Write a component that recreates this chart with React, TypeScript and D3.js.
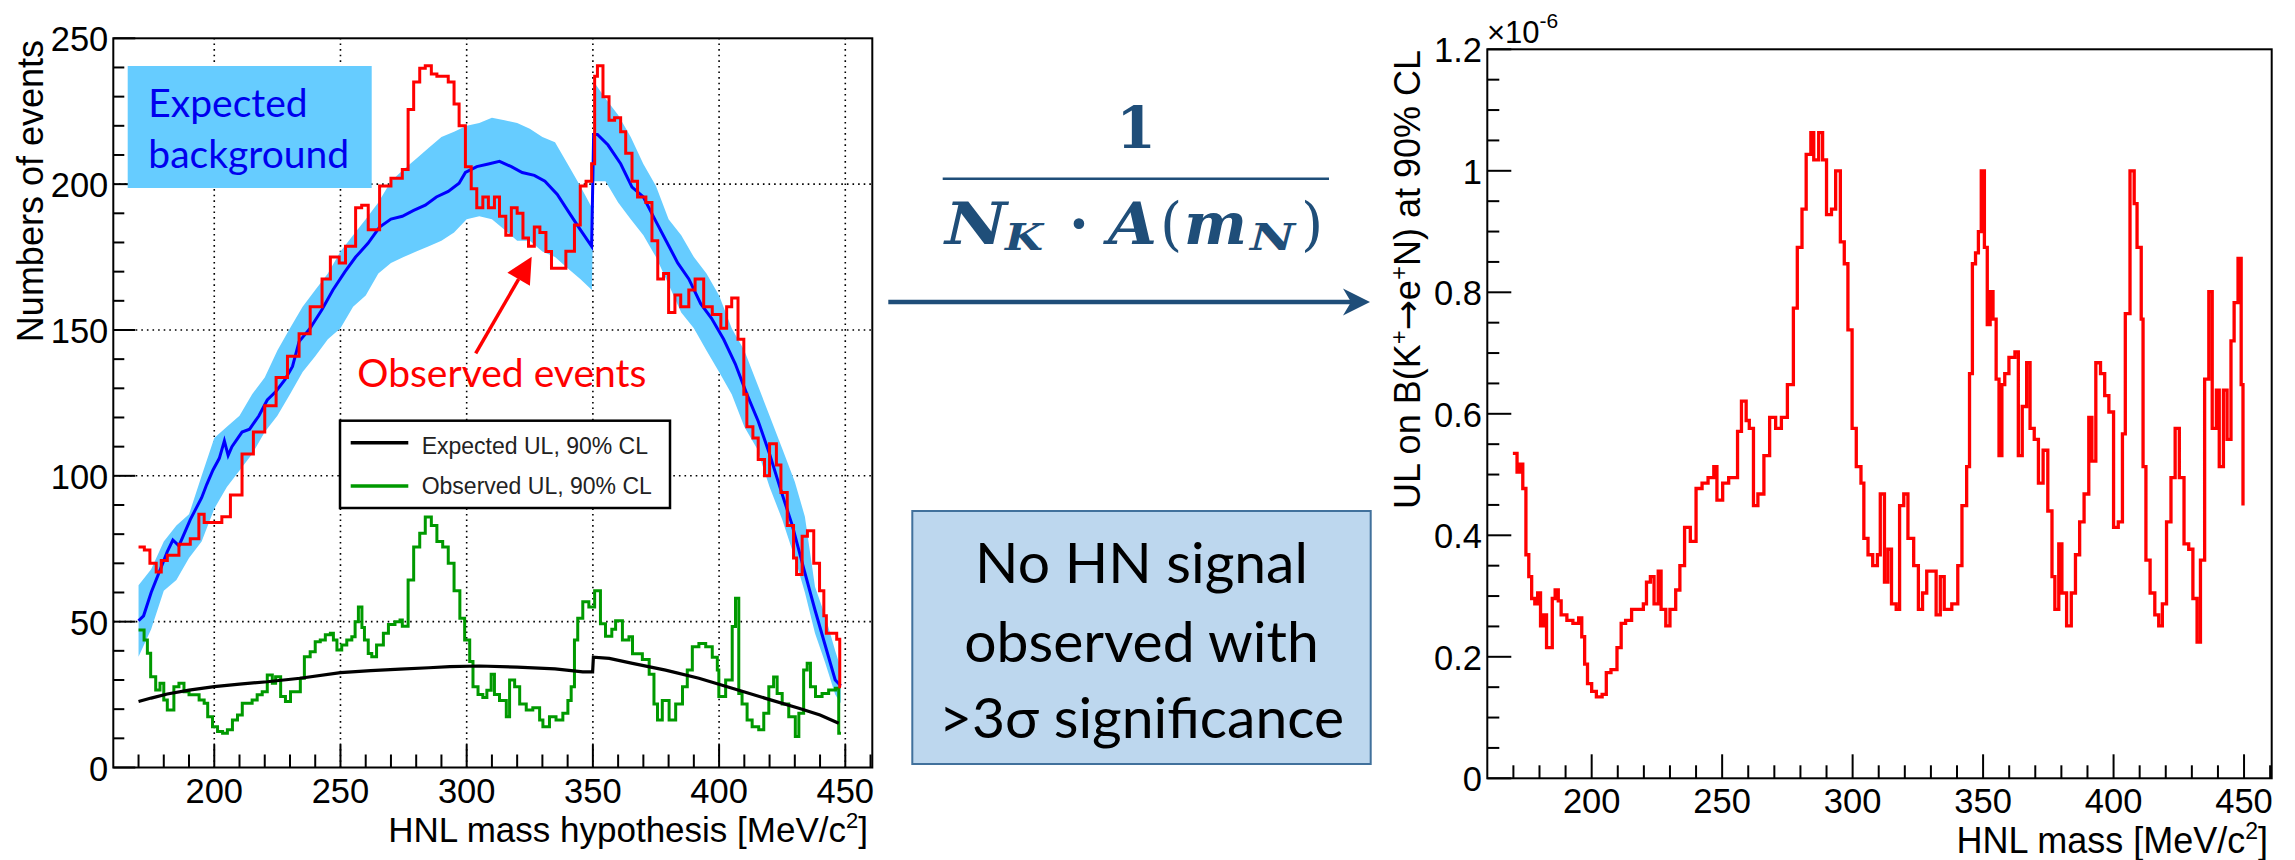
import React from "react";
import * as d3 from "d3";

// ---------------- data ----------------
// Expected background (blue), MeV/c^2 vs events
const bkgMass = [170, 172, 175, 181.4, 183.6, 186, 190.5, 195, 197, 199.5, 202, 204, 205.5, 207, 211, 214, 217.7, 221, 224.5, 228, 231, 233.6, 238, 242.7, 247, 251.8, 256, 260.9, 265.5, 270, 274.5, 279, 283.6, 288, 292.7, 297, 299.5, 304, 308.6, 313, 317.7, 322, 326.8, 331, 335.9, 340, 345, 349.5, 350.3, 351.8, 356, 361, 365.5, 370, 374.5, 379, 383.6, 388, 392.7, 397, 401.8, 406.4, 411, 415.5, 420, 424.5, 429, 433.6, 438, 442, 446, 448.2];
const bkgMean = [50.3, 52, 60, 74, 78, 76, 85, 92.5, 97, 102, 106, 112, 107, 110, 115, 116, 120.6, 126, 129, 133, 137.5, 146, 150.6, 157, 163.7, 170, 175, 179.7, 185.3, 188, 189, 191, 192.8, 195.6, 197.5, 200.3, 204, 206, 206.9, 207.8, 206, 204, 203, 201, 196.5, 191, 184.4, 178.7, 217, 217, 213.4, 207, 199, 195.6, 188, 180.6, 173, 167.5, 159, 154, 146.8, 138.4, 128, 118.7, 107.5, 95, 83, 68, 54, 42, 30, 28];

// Uncertainty band of the expected background
const bandMass = [170, 175, 180, 185, 190, 195, 200, 205, 210, 215, 220, 225, 230, 235, 240, 245, 250, 255, 260, 265, 270, 275, 280, 285, 290, 295, 300, 305, 310, 315, 320, 325, 330, 335, 340, 345, 349.6, 350.4, 355, 360, 365, 370, 375, 380, 385, 390, 395, 400, 405, 410, 415, 420, 425, 430, 434, 438, 442, 446, 448.2];
const bandLow = [38, 47.4, 60.6, 64.3, 71.8, 77.5, 88.7, 96.2, 101.8, 107.5, 115, 120.6, 128, 135.6, 141, 146.8, 150.6, 158, 161.8, 169.4, 173, 175, 176.9, 178.7, 180.6, 183.4, 188, 189, 188, 184.4, 180.6, 180.6, 176.9, 175, 171.2, 167.5, 163.7, 201, 201, 193.7, 188, 182.5, 175, 165.6, 156, 150.6, 143, 135.6, 128, 116.8, 109.4, 96.2, 85, 71.8, 60, 46, 36, 25, 22];
const bandHigh = [62.5, 68, 77.5, 83, 86.8, 100, 113, 116.8, 120.6, 128, 133.7, 143, 150.6, 158, 163.7, 169.4, 176.9, 182.5, 188, 193.7, 201, 205, 208.7, 212.5, 216.2, 218, 220, 221, 222.8, 221.9, 221, 219, 216.2, 214.4, 206.9, 199.4, 191.9, 235, 229.4, 223.7, 216.2, 206.9, 199.4, 188, 182.5, 175, 169.4, 161.8, 150.6, 143, 131.8, 120.6, 109.4, 98, 86, 62, 52, 40, 34];

// Observed events (red)
const obsMass = [170, 172.3, 174.5, 177, 179, 181.4, 186, 190.5, 193.9, 196, 198.4, 203, 206.4, 211, 215.5, 220, 224.5, 229, 233.6, 238, 242.7, 246, 249.5, 252, 256, 258.4, 261, 265.5, 270, 274.5, 276.8, 279, 281.4, 283.6, 286, 288.2, 292.7, 295, 297, 299.5, 301.8, 304, 306.4, 308.6, 311, 313, 315.5, 317.7, 320, 322.3, 324.5, 326.8, 329, 331.4, 333.6, 337, 339.3, 342.7, 345, 347.3, 349.5, 350.7, 351.8, 354, 356.4, 358.6, 361, 363, 365.5, 367.7, 371, 373.4, 375.7, 378, 380, 382.5, 384.8, 388, 390.5, 393.9, 397.3, 400.7, 403, 405, 407.5, 409.8, 411, 413.4, 415.5, 418, 420, 422.7, 424.5, 427, 429.5, 430.7, 432.9, 435, 437.5, 439.8, 441.5, 442.5, 446.6, 447.8, 448.3];
const obsEvents = [75.6, 74.6, 70, 67, 71, 72.8, 76.5, 78.4, 86.8, 84, 84, 86, 93.4, 107.5, 115, 124, 133.7, 141, 148.7, 158, 167.5, 175, 173, 178.7, 191.9, 192.8, 184.4, 199.4, 202, 205, 225.6, 235, 239.7, 240.6, 237.8, 237, 235, 227.5, 220, 206, 198.4, 191.9, 195.6, 191.9, 195.6, 189, 182.5, 191.9, 190, 181.5, 178.7, 185.3, 183.4, 176.9, 171.2, 171.2, 177, 186, 199.4, 201, 207, 237, 240.6, 230, 221.9, 222.8, 218, 210.6, 201, 195.6, 193.7, 180.6, 167.5, 169.4, 156, 162, 158, 163.7, 167.5, 158, 155.3, 150.6, 158, 161, 146.8, 128, 116.8, 113, 105.6, 100, 111, 103.7, 94.3, 83, 71.8, 66.2, 79.3, 81.2, 70, 60.6, 52, 46, 44, 27.7, 27.7];

// Expected UL, 90% CL (black)
const expMass = [170, 175, 181.4, 190, 200, 210, 221, 234, 250, 262, 273.6, 285, 293.3, 305, 320, 335, 346, 349.9, 350.2, 356.5, 365.7, 378.8, 392, 405.2, 418.4, 431.6, 440, 447.4];
const expUL = [22.6, 23.8, 25.2, 26.5, 27.7, 28.6, 29.4, 30.6, 32.5, 33.2, 33.7, 34.2, 34.6, 34.8, 34.4, 33.8, 32.8, 32.8, 37.8, 37.4, 35.7, 33.4, 30.6, 27.2, 23.7, 20.3, 18, 15.2];

// Observed UL, 90% CL (green)
const obsULMass = [170, 172.2, 173.5, 174.8, 176.8, 178.5, 180, 181.4, 183.3, 184, 186, 188, 190, 192, 194, 196, 197.4, 199.3, 201.3, 203.3, 205.2, 207.2, 209.2, 211.1, 213, 215, 217, 219, 221, 223, 224.3, 226.3, 228.2, 230.2, 232.2, 234.1, 235.7, 238, 240, 242, 244, 246, 247.2, 248.6, 250.5, 252.5, 254.5, 255.8, 257.1, 258.5, 259.5, 261, 262.4, 264.3, 267, 269, 271.6, 273.6, 274.5, 276.8, 279, 281.4, 283.6, 286, 288.2, 290.5, 292.7, 295, 297.3, 299.2, 301.2, 302.5, 304.5, 306.4, 308, 309.7, 311, 313, 315.7, 317, 319, 321, 323.6, 326.2, 328.9, 330.2, 332.8, 335.4, 338.1, 340.1, 341.4, 342.7, 344, 346, 348.4, 350.7, 353, 355, 357.5, 359, 361.7, 364.3, 365.7, 369.6, 372.3, 374.2, 375.6, 377.5, 380.2, 382.8, 385.5, 387.4, 389.4, 392, 394.7, 397.3, 399.3, 399.9, 402.6, 405.2, 406.5, 407.8, 409.1, 411.1, 413.1, 415.7, 417.7, 419.7, 421.6, 423, 425, 427.6, 430.2, 431.6, 433.5, 434.9, 436.2, 438.2, 440.8, 443.4, 446.1, 447.4, 448.3];
const obsUL = [47.1, 43.7, 39.2, 31.1, 26.6, 28.9, 23.1, 19.7, 19.7, 27.7, 28.9, 26, 24.9, 24.9, 23.1, 22, 17.4, 14, 12.3, 11.7, 12.9, 16.3, 18, 22, 22, 23.1, 24.9, 26, 31.7, 28.9, 31.1, 24.3, 22.6, 26, 26, 30.6, 38, 39.7, 43.1, 43.7, 45.5, 46, 43.7, 40.3, 42, 43.7, 44.8, 50, 55, 48, 43.7, 39.1, 38, 42, 46, 49, 50, 50.6, 48.4, 64.3, 75.6, 80.3, 85.9, 83, 77.5, 75.6, 70, 60.6, 51.2, 43.7, 36.3, 27.7, 25, 24, 26.5, 32, 25, 23, 17.4, 30, 27.7, 21.8, 19.7, 20.5, 16.3, 14, 17.4, 16.3, 18.6, 23, 27.7, 43.7, 51.2, 56.8, 55, 60.6, 49.3, 45, 47.4, 50.3, 43.7, 44.8, 39, 37, 32, 21.8, 16.3, 23, 16.3, 21.8, 27.7, 33.4, 41.4, 42.5, 41.4, 37.8, 33.4, 24.3, 30, 48.3, 58, 25.4, 21.8, 16.3, 14, 12.9, 18.6, 27.7, 31, 25.4, 21.8, 17.4, 10.6, 18.6, 33.4, 35.7, 27.7, 24.3, 25.4, 26.6, 27.2, 11.7, 11.7];

// UL on B(K+ -> e+ N) at 90% CL, in units of 1e-6 (right panel)
const brMass = [169.8, 171.4, 172.5, 173.6, 174.8, 175.9, 177, 178.2, 179.3, 180.4, 181.5, 182.7, 183.8, 184.9, 186, 187.2, 188.3, 190.5, 192.8, 195, 196.2, 197.3, 198.4, 200, 201.8, 204, 205.6, 207.4, 209.7, 211.3, 213, 215.3, 217.6, 219.8, 221, 222.5, 223.9, 225.5, 226.6, 228.4, 230, 232.2, 233.8, 235.6, 237.8, 240, 242.3, 244.6, 246.8, 248, 250.2, 252.5, 254.7, 255.9, 257.4, 259.2, 260.4, 262, 263.7, 266, 268.2, 270.5, 272.7, 275, 277.3, 278.8, 280.6, 282.2, 284, 285.1, 287, 288.5, 290, 291.9, 293.5, 295.3, 296.8, 298.2, 299.8, 301.4, 303.2, 304.3, 305.9, 307.7, 309.5, 310.6, 312.2, 313.5, 314.9, 316.7, 318, 319.6, 321.2, 323.4, 325.2, 326.8, 328.4, 330.6, 332, 333.6, 335.1, 338, 340.3, 341.9, 343.7, 344.8, 345.9, 347.1, 348.2, 349.3, 350.5, 351.6, 352.7, 353.8, 355, 356.1, 357.2, 358.3, 359.9, 362.2, 363.5, 365, 366.7, 368, 369.6, 371.2, 373, 374.8, 376.4, 377.5, 379, 380.2, 382, 383.8, 385.4, 387, 388.7, 390.5, 391.7, 393.2, 395, 396.6, 398.2, 400, 401.8, 403.4, 404.5, 406.3, 407.9, 409, 410.6, 411.3, 412.4, 414, 415.8, 417.3, 418.7, 420.3, 422, 423.6, 425.2, 427, 428.8, 430.4, 432, 433.3, 434.9, 436.5, 437.8, 439.4, 440.5, 442.1, 443.5, 445, 446.2, 447.7, 448.9, 449.6];
const brUL = [0.535, 0.504, 0.517, 0.477, 0.368, 0.332, 0.296, 0.287, 0.305, 0.251, 0.269, 0.215, 0.215, 0.296, 0.31, 0.292, 0.269, 0.26, 0.255, 0.264, 0.233, 0.188, 0.156, 0.143, 0.134, 0.138, 0.174, 0.179, 0.215, 0.255, 0.26, 0.278, 0.278, 0.287, 0.323, 0.332, 0.287, 0.341, 0.278, 0.251, 0.278, 0.31, 0.35, 0.413, 0.39, 0.477, 0.486, 0.495, 0.513, 0.458, 0.486, 0.495, 0.495, 0.571, 0.621, 0.589, 0.576, 0.449, 0.468, 0.531, 0.594, 0.576, 0.594, 0.648, 0.774, 0.874, 0.937, 1.027, 1.063, 1.018, 1.063, 1.018, 0.928, 0.937, 1.0, 0.883, 0.847, 0.738, 0.576, 0.513, 0.486, 0.395, 0.368, 0.35, 0.368, 0.468, 0.323, 0.377, 0.287, 0.278, 0.449, 0.468, 0.395, 0.35, 0.278, 0.305, 0.341, 0.341, 0.269, 0.332, 0.278, 0.287, 0.35, 0.449, 0.513, 0.666, 0.847, 0.865, 0.9, 1.0, 0.874, 0.747, 0.801, 0.756, 0.657, 0.531, 0.648, 0.666, 0.693, 0.702, 0.531, 0.612, 0.684, 0.576, 0.558, 0.486, 0.54, 0.44, 0.332, 0.278, 0.386, 0.305, 0.251, 0.305, 0.368, 0.422, 0.468, 0.594, 0.522, 0.684, 0.666, 0.63, 0.603, 0.413, 0.422, 0.567, 0.765, 1.0, 0.946, 0.874, 0.756, 0.513, 0.359, 0.305, 0.269, 0.251, 0.287, 0.422, 0.495, 0.576, 0.495, 0.386, 0.377, 0.296, 0.224, 0.359, 0.657, 0.801, 0.576, 0.639, 0.513, 0.639, 0.558, 0.72, 0.783, 0.856, 0.648, 0.449, 0.449];

// axis ticks / labels
const xMajor = [200, 250, 300, 350, 400, 450];
const leftYMajor = [0, 50, 100, 150, 200, 250];
const leftGridY = [50, 100, 150, 200];
const rightYMajor = [0, 0.2, 0.4, 0.6, 0.8, 1, 1.2];
const legendLabels = ["Expected UL, 90% CL", "Observed UL, 90% CL"];
const boxLines = ["No HN signal", "observed with", ">3\u03c3 significance"];

const ROOT_FONT = "'Liberation Sans', Arial, Helvetica, sans-serif";
const SLIDE_FONT = "Lato, 'Open Sans', sans-serif";
const MATH_FONT = "'DejaVu Serif', 'Liberation Serif', serif";
const NAVY = "#1F4E79";

const zip = (xs: number[], ys: number[]) => xs.map((x, i) => [x, ys[i]] as [number, number]);

export default function App() {
  // left panel scales
  const xL = d3.scaleLinear().domain([160, 460.7]).range([113.3, 872.3]);
  const yL = d3.scaleLinear().domain([0, 250]).range([767.5, 38.3]);
  // right panel scales
  const xR = d3.scaleLinear().domain([160, 460.6]).range([1487.3, 2271.7]);
  const yR = d3.scaleLinear().domain([0, 1.2]).range([778.3, 49.3]);

  const lineL = (curve: any) =>
    d3.line<[number, number]>().x((d) => xL(d[0])).y((d) => yL(d[1])).curve(curve);
  const bandPath = d3
    .area<number>()
    .x((_, i) => xL(bandMass[i]))
    .y0((_, i) => yL(bandLow[i]))
    .y1((_, i) => yL(bandHigh[i]))
    .curve(d3.curveLinear)(bandMass);
  const bluePath = lineL(d3.curveLinear)(zip(bkgMass, bkgMean));
  const redPath = lineL(d3.curveStepAfter)(zip(obsMass, obsEvents));
  const blackPath = lineL(d3.curveLinear)(zip(expMass, expUL));
  const greenPath = lineL(d3.curveStepAfter)(zip(obsULMass, obsUL));
  const brPath = d3
    .line<[number, number]>()
    .x((d) => xR(d[0]))
    .y((d) => yR(d[1]))
    .curve(d3.curveStepAfter)(zip(brMass, brUL));

  const minorX = d3.range(170, 461, 10);
  const minorYL = d3.range(0, 251, 10);
  const minorYR = d3.range(0, 1.2001, 0.05);

  const [x0L, x1L] = xL.range();
  const [y0L, y1L] = yL.range();
  const [x0R, x1R] = xR.range();
  const [y0R, y1R] = yR.range();

  // red annotation arrow
  const tail = [475.7, 353.3];
  const tip = [531.7, 256.7];
  const dx = tip[0] - tail[0], dy = tip[1] - tail[1];
  const len = Math.hypot(dx, dy);
  const ux = dx / len, uy = dy / len;
  const headL = 26, headW = 13;
  const bx = tip[0] - ux * headL, by = tip[1] - uy * headL;
  const head = `M${tip[0]},${tip[1]} L${bx - uy * headW},${by + ux * headW} L${bx + uy * headW},${by - ux * headW} Z`;

  return (
    <svg
      width={2295}
      height={860}
      style={{ position: "absolute", left: 0, top: 0, background: "#fff" }}
    >
      <rect x={0} y={0} width={2295} height={860} fill="#fff" />

      {/* ================= LEFT PANEL ================= */}
      <g>
        {xMajor.map((v) => (
          <line key={"gx" + v} x1={xL(v)} x2={xL(v)} y1={y0L} y2={y1L} stroke="#000" strokeWidth={1.6} strokeDasharray="1.6,4" />
        ))}
        {leftGridY.map((v) => (
          <line key={"gy" + v} x1={x0L} x2={x1L} y1={yL(v)} y2={yL(v)} stroke="#000" strokeWidth={1.6} strokeDasharray="1.6,4" />
        ))}
        <path d={bandPath || ""} fill="#66CCFF" />
        <path d={bluePath || ""} fill="none" stroke="#0000FF" strokeWidth={3} />
        <path d={greenPath || ""} fill="none" stroke="#009900" strokeWidth={3} />
        <path d={blackPath || ""} fill="none" stroke="#000" strokeWidth={3.2} />
        <path d={redPath || ""} fill="none" stroke="#FF0000" strokeWidth={3} />

        {/* legend */}
        <rect x={340} y={420.7} width={330} height={87.3} fill="#fff" stroke="#000" strokeWidth={2.5} />
        <line x1={350.7} x2={408.3} y1={442.7} y2={442.7} stroke="#000" strokeWidth={3.5} />
        <line x1={350.7} x2={408.3} y1={486} y2={486} stroke="#009900" strokeWidth={3.5} />
        <text x={421.7} y={454} fontFamily={ROOT_FONT} fontSize={23} fill="#222">{legendLabels[0]}</text>
        <text x={421.7} y={494.3} fontFamily={ROOT_FONT} fontSize={23} fill="#222">{legendLabels[1]}</text>

        {/* frame */}
        <rect x={x0L} y={y1L} width={x1L - x0L} height={y0L - y1L} fill="none" stroke="#000" strokeWidth={2} />
        {minorX.map((v) => (
          <line key={"tx" + v} x1={xL(v)} x2={xL(v)} y1={y0L} y2={y0L - (v % 50 === 0 ? 23 : 13)} stroke="#000" strokeWidth={2} />
        ))}
        {minorYL.map((v) => (
          <line key={"ty" + v} x1={x0L} x2={x0L + (v % 50 === 0 ? 22 : 11)} y1={yL(v)} y2={yL(v)} stroke="#000" strokeWidth={2} />
        ))}
        {xMajor.map((v) => (
          <text key={"lx" + v} x={xL(v)} y={803} textAnchor="middle" fontFamily={ROOT_FONT} fontSize={34.5} fill="#000">{v}</text>
        ))}
        {leftYMajor.map((v) => (
          <text key={"ly" + v} x={108.3} y={yL(v) + 13} textAnchor="end" fontFamily={ROOT_FONT} fontSize={34.5} fill="#000">{v}</text>
        ))}
        <text x={868} y={842} textAnchor="end" fontFamily={ROOT_FONT} fontSize={35} fill="#000">
          HNL mass hypothesis [MeV/c<tspan dy={-14} fontSize={22}>2</tspan><tspan dy={14}>]</tspan>
        </text>
        <text transform="translate(43,40) rotate(-90)" textAnchor="end" fontFamily={ROOT_FONT} fontSize={36} fill="#000">
          Numbers of events
        </text>

        {/* annotations */}
        <rect x={127.7} y={66} width={244} height={122} fill="#66CCFF" />
        <text x={148.3} y={117} fontFamily={SLIDE_FONT} fontSize={39} fill="#0000EE">Expected</text>
        <text x={148.3} y={168} fontFamily={SLIDE_FONT} fontSize={39} fill="#0000EE">background</text>
        <line x1={tail[0]} y1={tail[1]} x2={bx} y2={by} stroke="#FF0000" strokeWidth={3.5} />
        <path d={head} fill="#FF0000" />
        <text x={357.3} y={386.7} fontFamily={SLIDE_FONT} fontSize={39} fill="#FF0000">Observed events</text>
      </g>

      {/* ================= MIDDLE ================= */}
      <g fill={NAVY}>
        <text x={1136} y={148.3} textAnchor="middle" fontFamily={MATH_FONT} fontWeight="bold" fontSize={57}>1</text>
        <line x1={942.7} x2={1329} y1={178.8} y2={178.8} stroke={NAVY} strokeWidth={2.5} />
        <g fontFamily={MATH_FONT} fontWeight="bold" fontStyle="italic">
          <text x={945} y={243.5} fontSize={57} textLength={62} lengthAdjust="spacingAndGlyphs">N</text>
          <text x={1005} y={250} fontSize={38} textLength={38} lengthAdjust="spacingAndGlyphs">K</text>
          <text x={1079} y={243.5} fontSize={57} textAnchor="middle" fontStyle="normal">{"\u00b7"}</text>
          <text x={1108} y={243.5} fontSize={57} textLength={49} lengthAdjust="spacingAndGlyphs">A</text>
          <text x={1160} y={243.5} fontSize={57} fontStyle="normal" fontWeight="normal">(</text>
          <text x={1184} y={243.5} fontSize={57} textLength={63} lengthAdjust="spacingAndGlyphs">m</text>
          <text x={1250} y={250} fontSize={38} textLength={45} lengthAdjust="spacingAndGlyphs">N</text>
          <text x={1301} y={243.5} fontSize={57} fontStyle="normal" fontWeight="normal">)</text>
        </g>
        <line x1={888.3} x2={1352} y1={302} y2={302} stroke={NAVY} strokeWidth={4.5} />
        <path d="M1370,302 L1343,288.5 L1351,302 L1343,315.5 Z" fill={NAVY} />
      </g>
      <rect x={912.3} y={511} width={458.4} height={253} fill="#BDD7EE" stroke="#41719C" strokeWidth={2} />
      {boxLines.map((t, i) => (
        <text key={t} x={1141.5} y={[583, 661.5, 737.6][i]} textAnchor="middle" fontFamily={SLIDE_FONT} fontSize={57} fill="#000">{t}</text>
      ))}

      {/* ================= RIGHT PANEL ================= */}
      <g>
        <path d={brPath || ""} fill="none" stroke="#FF0000" strokeWidth={3.3} />
        <rect x={x0R} y={y1R} width={x1R - x0R} height={y0R - y1R} fill="none" stroke="#000" strokeWidth={2} />
        {minorX.map((v) => (
          <line key={"rtx" + v} x1={xR(v)} x2={xR(v)} y1={y0R} y2={y0R - (v % 50 === 0 ? 24 : 13)} stroke="#000" strokeWidth={2} />
        ))}
        {minorYR.map((v, i) => (
          <line key={"rty" + i} x1={x0R} x2={x0R + (i % 4 === 0 ? 24 : 12)} y1={yR(v)} y2={yR(v)} stroke="#000" strokeWidth={2} />
        ))}
        {xMajor.map((v) => (
          <text key={"rlx" + v} x={xR(v)} y={813} textAnchor="middle" fontFamily={ROOT_FONT} fontSize={34.5} fill="#000">{v}</text>
        ))}
        {rightYMajor.map((v) => (
          <text key={"rly" + v} x={1482} y={yR(v) + 13} textAnchor="end" fontFamily={ROOT_FONT} fontSize={34.5} fill="#000">{d3.format("~g")(v)}</text>
        ))}
        <text x={1487} y={43.3} fontFamily={ROOT_FONT} fontSize={31} fill="#000">
          {"\u00d710"}<tspan dy={-15} fontSize={21}>-6</tspan>
        </text>
        <text x={2268} y={853} textAnchor="end" fontFamily={ROOT_FONT} fontSize={36} fill="#000">
          HNL mass [MeV/c<tspan dy={-14} fontSize={23}>2</tspan><tspan dy={14}>]</tspan>
        </text>
        <text transform="translate(1420,50) rotate(-90)" textAnchor="end" fontFamily={ROOT_FONT} fontSize={36} fill="#000">
          UL on B(K<tspan dy={-13} fontSize={24}>+</tspan><tspan dy={13} fontFamily="'DejaVu Sans', sans-serif">{"\u2192"}</tspan><tspan>e</tspan><tspan dy={-13} fontSize={24}>+</tspan><tspan dy={13}>N) at 90% CL</tspan>
        </text>
      </g>
    </svg>
  );
}
